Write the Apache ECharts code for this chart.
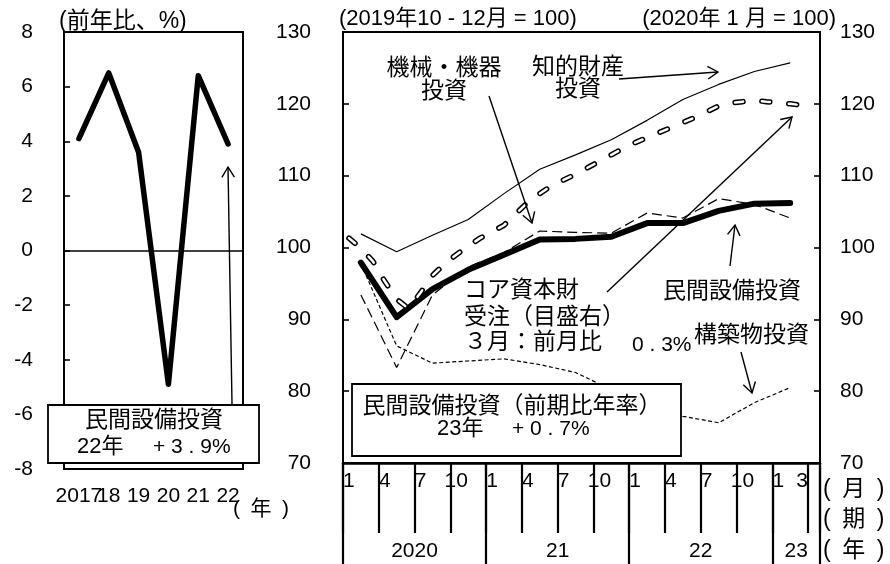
<!DOCTYPE html>
<html><head><meta charset="utf-8">
<script src="https://cdn.jsdelivr.net/npm/echarts@6/dist/echarts.min.js"></script>
<style>html,body{margin:0;padding:0;background:#fff}#c{width:890px;height:564px}</style>
</head><body><div id="c"></div>
<script>
// ---- data: left chart (annual, % y/y) ----
const annualYears = ['2017', '18', '19', '20', '21', '22'];
const annualGrowth = [4.1, 6.5, 3.6, -4.9, 6.4, 3.9];

// ---- data: right chart ----
// month axis Jan 2020 .. Apr 2023 (labels shown only where non-empty)
const monthTickLabels = ['1','','','4','','','7','','','10','','',
                         '1','','','4','','','7','','','10','','',
                         '1','','','4','','','7','','','10','','',
                         '1','','3',''];
const yearLabels = ['2020', '21', '22', '23'];
// quarterly, 2019Q4 = 100 (2020Q1 .. 2023Q1)
const nonresInvest = [97.9, 90.3, 94.2, 96.9, 99.0, 101.1, 101.2, 101.5, 103.4, 103.4, 105.1, 106.1, 106.2];
const equipment    = [93.4, 83.3, 93.4, 97.3, 99.3, 102.3, 102.1, 102.0, 104.8, 104.1, 106.8, 106.0, 104.1];
const intellectual = [101.9, 99.4, 101.7, 103.9, 107.5, 110.9, 112.9, 115.0, 117.7, 120.6, 122.7, 124.5, 125.7];
const structures   = [97.8, 86.3, 83.9, 84.2, 84.5, 83.7, 82.6, 80.2, 78.2, 76.5, 75.6, 78.4, 80.5];
// monthly, Jan 2020 = 100 (Jan 2020 .. Mar 2023), right scale
const coreOrders = [101.3, 99.9, 98.1, 95.3, 92.8, 91.5, 93.7, 96.1, 97.7, 99.0, 100.2, 101.3,
                    102.2, 103.1, 104.7, 106.3, 107.5, 108.6, 109.4, 110.2, 111.1, 112.0, 112.9, 113.8,
                    114.6, 115.3, 116.0, 116.7, 117.4, 118.1, 118.9, 119.7, 120.1, 120.3, 120.5, 120.3,
                    120.2, 120.0, 119.8];

const NUM = '"Liberation Sans", "Noto Sans CJK JP", sans-serif';
const CJK = '"Liberation Sans", "Noto Sans CJK JP", sans-serif';

const nMonths = monthTickLabels.length;
const yearCenters = yearLabels.map((_, j) => (12 * j + Math.min(12 * (j + 1), nMonths)) / 2);
const toQ = arr => arr.map((v, k) => [3 * k + 1, v]);
const toM = arr => arr.map((v, i) => [i, v]);

function arrow(x1, y1, x2, y2) {
  const a = Math.atan2(y2 - y1, x2 - x1), L = 12, s = 0.55;
  return [
    {type: 'line', z: 100, shape: {x1, y1, x2, y2}, style: {stroke: '#000', lineWidth: 1.4}},
    {type: 'polyline', z: 100, shape: {points: [
      [x2 - L * Math.cos(a - s), y2 - L * Math.sin(a - s)], [x2, y2],
      [x2 - L * Math.cos(a + s), y2 - L * Math.sin(a + s)]]},
      style: {stroke: '#000', fill: null, lineWidth: 1.4}}
  ];
}
function txt(text, x, y, size, align, font) {
  return {type: 'text', z: 102, style: {text, x, y, fontSize: size, fontFamily: font || CJK,
    fill: '#000', align: align || 'left', verticalAlign: 'middle',
    textAlign: align || 'left', textVerticalAlign: 'middle'}};
}
function box(x, y, w, h) {
  return {type: 'rect', z: 101, shape: {x, y, width: w, height: h},
    style: {fill: '#fff', stroke: '#000', lineWidth: 1.8}};
}

const chart = echarts.init(document.getElementById('c'));
const axisLab = (size, margin) => ({color: '#000', fontSize: size, fontFamily: NUM, margin});

chart.setOption({
  animation: false,
  textStyle: {fontFamily: NUM},
  grid: [
    {left: 64, top: 32, width: 179, height: 437, show: true, borderColor: '#000', borderWidth: 2, backgroundColor: 'transparent'},
    {left: 343, top: 32, width: 477, height: 431, show: true, borderColor: '#000', borderWidth: 2, backgroundColor: 'transparent'}
  ],
  xAxis: [
    {gridIndex: 0, type: 'category', position: 'bottom', data: annualYears, boundaryGap: true,
     axisLine: {show: false}, axisTick: {show: false},
     axisLabel: Object.assign(axisLab(21, 17), {interval: 0})},
    {gridIndex: 1, type: 'category', position: 'bottom', data: monthTickLabels, boundaryGap: true,
     axisLine: {show: true, lineStyle: {color: '#000', width: 2.5}},
     axisTick: {show: true, interval: i => i % 3 === 0, length: 70, lineStyle: {color: '#000', width: 2.2}},
     axisLabel: Object.assign(axisLab(21, 8), {interval: 0})},
    {gridIndex: 1, type: 'category', position: 'bottom', data: monthTickLabels, boundaryGap: true,
     axisLine: {show: false},
     axisTick: {show: true, interval: i => i % 12 === 0, length: 101, lineStyle: {color: '#000', width: 2.2}},
     axisLabel: {show: false}},
    {gridIndex: 1, type: 'value', position: 'bottom', min: 0, max: nMonths,
     axisLine: {show: false}, axisTick: {show: false}, splitLine: {show: false},
     axisLabel: Object.assign(axisLab(21, 78), {customValues: yearCenters,
       formatter: v => { const j = yearCenters.indexOf(v); return j >= 0 ? yearLabels[j] : ''; }})}
  ],
  yAxis: [
    {gridIndex: 0, type: 'value', position: 'left', min: -8, max: 8, interval: 2,
     axisLine: {show: false}, splitLine: {show: false},
     axisTick: {show: true, inside: true, length: 6, lineStyle: {color: '#000', width: 1.6}},
     axisLabel: axisLab(21, 31)},
    {gridIndex: 1, type: 'value', position: 'left', min: 70, max: 130, interval: 10,
     axisLine: {show: false}, splitLine: {show: false},
     axisTick: {show: true, inside: true, length: 6, lineStyle: {color: '#000', width: 1.6}},
     axisLabel: axisLab(21, 32)},
    {gridIndex: 1, type: 'value', position: 'right', min: 70, max: 130, interval: 10,
     axisLine: {show: false}, splitLine: {show: false},
     axisTick: {show: true, inside: true, length: 6, lineStyle: {color: '#000', width: 1.6}},
     axisLabel: axisLab(21, 20)}
  ],
  series: [
    {type: 'line', xAxisIndex: 0, yAxisIndex: 0, data: annualGrowth, showSymbol: false, silent: true,
     lineStyle: {color: '#000', width: 5.5, cap: 'round', join: 'round'},
     markLine: {silent: true, symbol: 'none', label: {show: false},
       lineStyle: {color: '#000', width: 1.5, type: 'solid'}, data: [{yAxis: 0}]}},
    {name: '構築物投資', type: 'line', xAxisIndex: 1, yAxisIndex: 1, data: toQ(structures), showSymbol: false, silent: true,
     lineStyle: {color: '#000', width: 1.2, type: [4, 2.5]}},
    {name: '機械・機器投資', type: 'line', xAxisIndex: 1, yAxisIndex: 1, data: toQ(equipment), showSymbol: false, silent: true,
     lineStyle: {color: '#000', width: 1.2, type: [10, 5]}},
    {name: '知的財産投資', type: 'line', xAxisIndex: 1, yAxisIndex: 1, data: toQ(intellectual), showSymbol: false, silent: true,
     lineStyle: {color: '#000', width: 1.2}},
    {name: '民間設備投資', type: 'line', xAxisIndex: 1, yAxisIndex: 1, data: toQ(nonresInvest), showSymbol: false, silent: true,
     lineStyle: {color: '#000', width: 6, cap: 'round', join: 'round'}},
    {name: 'コア資本財受注', type: 'line', xAxisIndex: 1, yAxisIndex: 2, data: toM(coreOrders), showSymbol: false, silent: true,
     lineStyle: {color: '#000', width: 5.5, type: [8, 19], cap: 'round', join: 'round'}},
    {name: 'コア資本財受注_inner', type: 'line', xAxisIndex: 1, yAxisIndex: 2, data: toM(coreOrders), showSymbol: false, silent: true,
     lineStyle: {color: '#fff', width: 2.5, type: [8, 19], cap: 'round', join: 'round'}}
  ],
  graphic: {elements: [].concat(
    // left chart
    [txt('(前年比、%)', 59, 22, 23),
     txt('(\u2002年\u2002)', 233, 509, 21, 'left')],
    arrow(232, 404, 228, 167),
    [box(48, 405, 211, 58),
     txt('民間設備投資', 154, 421, 23, 'center'),
     txt('22年', 77, 447, 22),
     txt('+ 3 . 9%', 153, 447, 21, 'left', NUM)],
    // right chart headers
    [txt('(2019年10 - 12月 = 100)', 339, 19, 22),
     txt('(2020年 1 月 = 100)', 836, 19, 22, 'right')],
    // annotations
    [txt('機械・機器', 444, 69, 23, 'center'), txt('投資', 444, 92, 23, 'center')],
    arrow(489, 96, 532, 223),
    [txt('知的財産', 578, 68, 23, 'center'), txt('投資', 578, 90, 23, 'center')],
    arrow(619, 79, 718, 72),
    [txt('コア資本財', 464, 291, 23), txt('受注（目盛右）', 464, 318, 23), txt('３月：前月比', 464, 343, 23),
     txt('0 . 3%', 632, 345, 21, 'left', NUM)],
    arrow(607, 292, 792, 117),
    [txt('民間設備投資', 663, 292, 23)],
    arrow(730, 266, 735, 225),
    [txt('構築物投資', 694, 336, 23)],
    arrow(741, 352, 752, 393),
    [box(352, 384, 329, 72),
     txt('民間設備投資（前期比年率）', 512, 407, 23, 'center'),
     txt('23年', 437, 429, 22),
     txt('+ 0 . 7%', 512, 429, 21, 'left', NUM)],
    // unit labels under right chart
    [txt('(\u2002月\u2002)', 823, 490, 23), txt('(\u2002期\u2002)', 823, 520, 23), txt('(\u2002年\u2002)', 823, 551, 23)]
  )}
});
</script>
</body></html>
